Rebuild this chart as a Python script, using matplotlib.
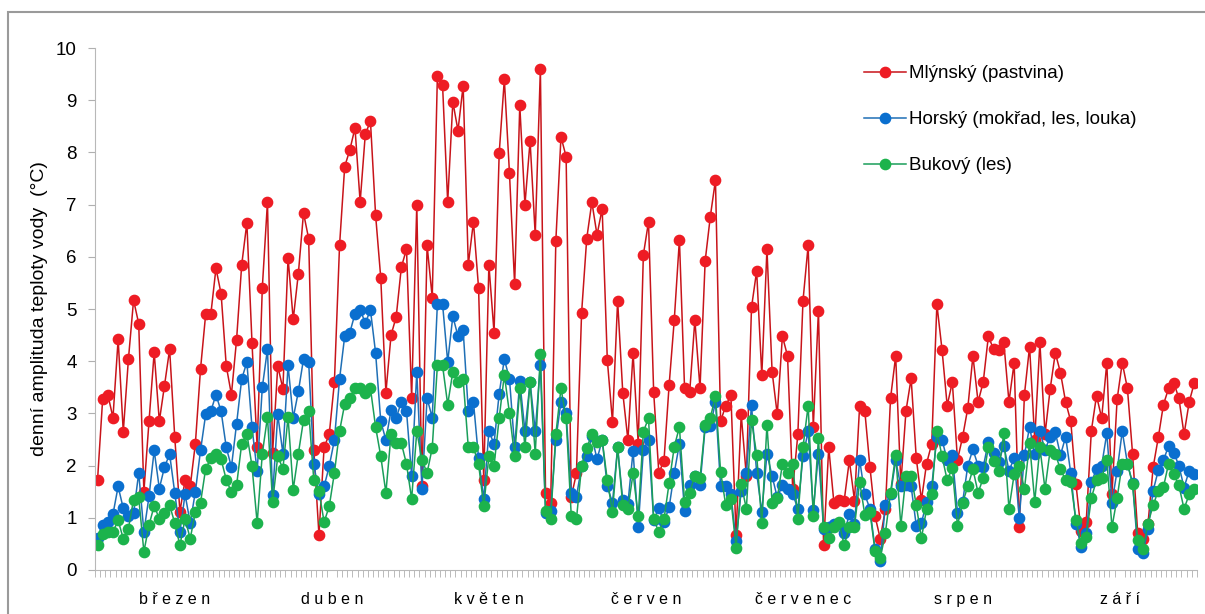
import numpy as np
import matplotlib
matplotlib.use("Agg")
import matplotlib.pyplot as plt
from matplotlib.patches import Rectangle

plt.rcParams['font.family'] = ['Liberation Sans', 'DejaVu Sans']

# daily water temperature amplitude, 1 March - 30 September
mlynsky = [
    1.72, 3.28, 3.36, 2.92, 4.42, 2.65, 4.04, 5.17, 4.72, 1.5,
    2.85, 4.17, 2.85, 3.53, 4.23, 2.54, 1.12, 1.72, 1.6, 2.42,
    3.85, 4.9, 4.9, 5.78, 5.29, 3.91, 3.36, 4.41, 5.85, 6.65,
    4.35, 2.35, 5.41, 7.05, 2.25, 3.91, 3.47, 5.98, 4.8, 5.68,
    6.84, 6.35, 2.3, 0.67, 2.35, 2.6, 3.6, 6.22, 7.73, 8.05,
    8.47, 7.05, 8.35, 8.6, 6.8, 5.6, 3.4, 4.5, 4.85, 5.8,
    6.15, 3.3, 7.0, 1.6, 6.22, 5.22, 9.47, 9.3, 7.05, 8.97,
    8.42, 9.28, 5.85, 6.67, 5.4, 1.72, 5.85, 4.55, 7.98, 9.4,
    7.6, 5.47, 8.9, 7.0, 8.22, 6.42, 9.6, 1.48, 1.28, 6.3,
    8.3, 7.92, 1.4, 1.85, 4.92, 6.35, 7.05, 6.42, 6.92, 4.02,
    2.84, 5.16, 3.4, 2.49, 4.16, 2.42, 6.04, 6.67, 3.41, 1.86,
    2.09, 3.54, 4.79, 6.33, 3.48, 3.41, 4.79, 3.48, 5.92, 6.77,
    7.47, 2.85, 3.15, 3.35, 0.67, 2.98, 1.8, 5.03, 5.73, 3.73,
    6.15, 3.8, 2.98, 4.48, 4.1, 1.55, 2.6, 5.16, 6.22, 2.74,
    4.97, 0.47, 2.35, 1.29, 1.35, 1.33, 2.1, 1.33, 3.15, 3.05,
    1.97, 1.03, 0.6, 1.17, 3.29, 4.1, 1.65, 3.05, 3.67, 2.14,
    1.34, 2.04, 2.42, 5.09, 4.22, 3.15, 3.6, 2.11, 2.55, 3.1,
    4.1, 3.22, 3.6, 4.48, 4.23, 4.22, 4.36, 3.22, 3.97, 0.82,
    3.36, 4.28, 2.5, 4.36, 2.6, 3.47, 4.16, 3.78, 3.22, 2.85,
    1.65, 0.75, 0.92, 2.67, 3.34, 2.91, 3.97, 1.45, 3.27, 3.97,
    3.48, 2.23, 0.71, 0.6, 0.89, 1.97, 2.54, 3.17, 3.48, 3.59,
    3.29, 2.6, 3.22, 3.59,
]

horsky = [
    0.62, 0.86, 0.92, 1.07, 1.6, 1.18, 1.03, 1.09, 1.86, 0.73,
    1.41, 2.29, 1.56, 1.97, 2.22, 1.48, 0.73, 1.45, 0.9, 1.5,
    2.29, 2.98, 3.04, 3.36, 3.04, 2.35, 1.97, 2.8, 3.66, 3.98,
    2.73, 1.89, 3.5, 4.23, 1.43, 2.98, 2.23, 3.92, 2.91, 3.42,
    4.04, 3.99, 2.03, 1.45, 1.6, 1.99, 2.49, 3.66, 4.48, 4.55,
    4.91, 4.99, 4.73, 4.98, 4.16, 2.85, 2.49, 3.06, 2.91, 3.22,
    3.05, 1.8, 3.8, 1.55, 3.29, 2.92, 5.1, 5.1, 3.99, 4.86,
    4.48, 4.6, 3.05, 3.22, 2.14, 1.36, 2.66, 2.42, 3.38, 4.04,
    3.66, 2.35, 3.62, 2.66, 3.6, 2.66, 3.92, 1.1, 1.13, 2.5,
    3.22, 3.0, 1.47, 1.4, 1.99, 2.18, 2.56, 2.12, 2.49, 1.6,
    1.29, 2.35, 1.34, 1.27, 2.28, 0.82, 2.3, 2.49, 0.96, 1.18,
    0.92, 1.2, 1.86, 2.42, 1.13, 1.62, 1.8, 1.62, 2.74, 2.75,
    3.22, 1.6, 1.6, 1.45, 0.55, 1.52, 1.85, 3.16, 1.86, 1.11,
    2.23, 1.8, 1.39, 1.62, 1.55, 1.46, 1.17, 2.18, 2.66, 1.15,
    2.23, 0.78, 0.82, 0.89, 0.89, 0.7, 1.07, 0.89, 2.11, 1.45,
    1.17, 0.4, 0.18, 1.25, 1.45, 2.1, 1.6, 1.62, 1.6, 0.85,
    0.9, 1.3, 1.6, 2.55, 2.5, 2.1, 2.2, 1.1, 1.3, 2.0,
    2.31, 2.0, 1.97, 2.46, 2.25, 2.07, 2.38, 1.9, 2.14, 1.0,
    2.2, 2.74, 2.23, 2.66, 2.3, 2.55, 2.64, 2.2, 2.55, 1.86,
    0.89, 0.44, 0.7, 1.69, 1.93, 2.0, 2.62, 1.29, 1.9, 2.66,
    2.04, 1.67, 0.4, 0.33, 0.78, 1.52, 1.91, 2.1, 2.38, 2.25,
    2.0, 1.58, 1.9, 1.83,
]

bukovy = [
    0.47, 0.68, 0.73, 0.73, 0.95, 0.6, 0.79, 1.35, 1.39, 0.35,
    0.86, 1.23, 0.98, 1.1, 1.24, 0.9, 0.47, 0.98, 0.6, 1.11,
    1.29, 1.94, 2.14, 2.22, 2.12, 1.73, 1.49, 1.62, 2.42, 2.61,
    1.99, 0.9, 2.23, 2.93, 1.3, 2.18, 1.94, 2.93, 1.54, 2.23,
    2.87, 3.05, 1.72, 1.51, 0.92, 1.22, 1.86, 2.66, 3.18, 3.29,
    3.48, 3.48, 3.4, 3.48, 2.74, 2.18, 1.48, 2.6, 2.43, 2.43,
    2.03, 1.36, 2.66, 2.11, 1.86, 2.34, 3.92, 3.92, 3.17, 3.8,
    3.6, 3.66, 2.35, 2.35, 2.03, 1.22, 2.18, 1.99, 2.91, 3.74,
    3.0, 2.18, 3.48, 2.35, 3.6, 2.23, 4.13, 1.13, 0.97, 2.6,
    3.48, 2.91, 1.03, 0.97, 1.99, 2.34, 2.6, 2.46, 2.49, 1.72,
    1.11, 2.35, 1.24, 1.17, 1.85, 1.03, 2.65, 2.91, 0.97, 0.73,
    0.97, 1.67, 2.36, 2.74, 1.31, 1.48, 1.81, 1.76, 2.77, 2.91,
    3.34, 1.88, 1.24, 1.36, 0.43, 1.65, 1.17, 2.87, 2.21, 0.9,
    2.78, 1.29, 1.37, 2.03, 1.86, 2.03, 0.97, 2.35, 3.15, 1.03,
    2.52, 0.83, 0.61, 0.82, 0.92, 0.47, 0.82, 0.83, 1.69, 1.06,
    1.11, 0.36, 0.22, 0.71, 1.48, 2.21, 0.85, 1.81, 1.81, 1.24,
    0.61, 1.17, 1.45, 2.66, 2.18, 1.72, 1.95, 0.85, 1.29, 1.6,
    1.93, 1.48, 1.76, 2.36, 2.08, 1.89, 2.62, 1.17, 1.83, 2.0,
    1.55, 2.43, 1.31, 2.35, 1.55, 2.3, 2.22, 1.93, 1.72, 1.69,
    0.96, 0.51, 0.64, 1.38, 1.72, 1.76, 2.11, 0.82, 1.38, 2.04,
    2.04, 1.65, 0.57, 0.4, 0.89, 1.24, 1.52, 1.59, 2.04, 1.83,
    1.62, 1.17, 1.45, 1.55,
]

months = ["březen", "duben", "květen", "červen", "červenec", "srpen", "září"]
month_days = [31, 30, 31, 30, 31, 31, 30]

labels = ["Mlýnský (pastvina)", "Horský (mokřad, les, louka)", "Bukový (les)"]

days = np.arange(len(mlynsky))

fig = plt.figure(figsize=(12.05, 6.14), dpi=100)
ax = fig.add_axes([0.0788, 0.0717, 0.9145, 0.850])

# (line colour, marker colour)
styles = [("#c8141a", "#ee1c24"), ("#1f6fb5", "#0a6fcf"), ("#1a9e5a", "#1cb34c")]
for vals, lab, (lc, mc) in zip([mlynsky, horsky, bukovy], labels, styles):
    ax.plot(days, vals, color=lc, lw=1.1, marker="o", ms=7.4,
            mfc=mc, mec=mc, label=lab)

ax.set_xlim(-0.5, len(days) - 0.5)
ax.set_ylim(0, 10)
ax.set_yticks(range(0, 11))
ax.tick_params(axis="y", labelsize=13.5, length=5, color="#b0b0b0", pad=8)

# month labels at month centres, a small tick for every day
starts = np.cumsum([0] + month_days[:-1])
centres = starts + np.array(month_days) / 2 - 0.5
ax.set_xticks(centres)
ax.set_xticklabels([" ".join(m) for m in months], fontsize=11.5)
ax.tick_params(axis="x", length=0, pad=16)
ax.set_xticks(np.arange(len(days) + 1) - 0.5, minor=True)
ax.tick_params(axis="x", which="minor", length=5, color="#b0b0b0")

for s in ["top", "right"]:
    ax.spines[s].set_visible(False)
for s in ["left", "bottom"]:
    ax.spines[s].set_color("#b8b8b8")

ax.set_ylabel("denní amplituda teploty vody  (°C)", fontsize=14, labelpad=6)

ax.legend(loc="upper left", bbox_to_anchor=(0.683, 1.0), frameon=False,
          fontsize=13.5, handlelength=2.2, handletextpad=0.15, labelspacing=1.55)

fig.patches.append(Rectangle((0.007, -0.01), 1.0, 0.99, transform=fig.transFigure,
                             fill=False, edgecolor="#9a9a9a", lw=1.5))

fig.savefig("out.png", dpi=100)
